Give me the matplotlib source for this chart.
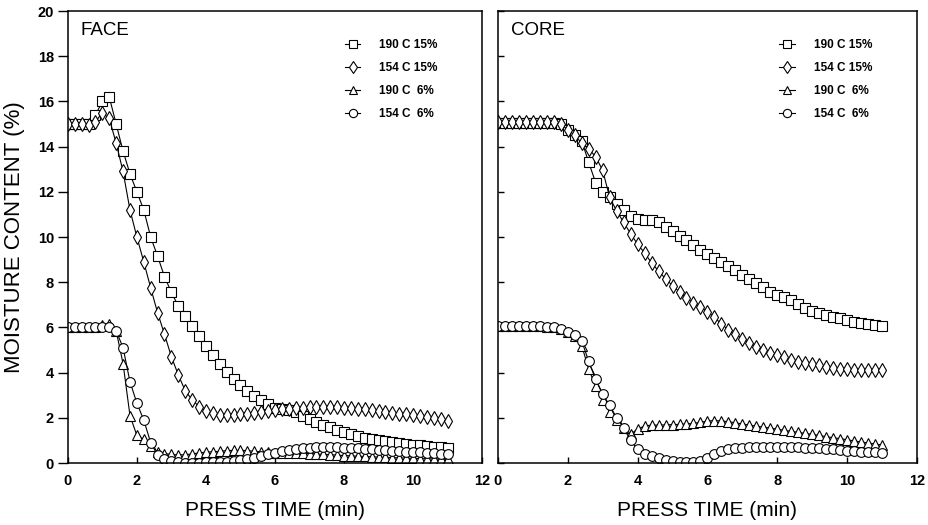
import numpy as np
import matplotlib
matplotlib.use("Agg")
import matplotlib.pyplot as plt

plt.rcParams['font.family'] = ['Liberation Sans', 'DejaVu Sans']

# press time (min), sampled every 0.2 min from 0 to 11
time_min = np.round(np.arange(0, 11.0001, 0.2), 1)

legend_labels = ["190 C 15%", "154 C 15%", "190 C  6%", "154 C  6%"]
panel_titles = ["FACE", "CORE"]
x_ticks = [0, 2, 4, 6, 8, 10, 12]
y_ticks = [0, 2, 4, 6, 8, 10, 12, 14, 16, 18, 20]

# ---------------- FACE ----------------
face_190_15 = [15.0, 15.0, 15.0, 15.0, 15.4, 16.0, 16.2, 15.0, 13.8, 12.8,
               12.0, 11.2, 10.0, 9.15, 8.25, 7.55, 6.95, 6.5, 6.05, 5.6,
               5.2, 4.8, 4.4, 4.05, 3.72, 3.45, 3.2, 2.95, 2.78, 2.6,
               2.45, 2.4, 2.36, 2.25, 2.08, 1.95, 1.8, 1.7, 1.58, 1.45,
               1.37, 1.28, 1.2, 1.12, 1.06, 1.0, 0.96, 0.92, 0.88, 0.85,
               0.82, 0.79, 0.76, 0.73, 0.7, 0.68]
face_154_15 = [15.0, 15.0, 15.0, 14.95, 15.1, 15.5, 15.25, 14.15, 12.9, 11.2,
               10.0, 8.9, 7.75, 6.65, 5.7, 4.7, 3.9, 3.2, 2.8, 2.5,
               2.3, 2.2, 2.14, 2.12, 2.13, 2.15, 2.18, 2.22, 2.27, 2.31,
               2.35, 2.38, 2.41, 2.43, 2.45, 2.46, 2.47, 2.48, 2.48, 2.47,
               2.45, 2.44, 2.41, 2.38, 2.35, 2.31, 2.27, 2.23, 2.19, 2.15,
               2.11, 2.07, 2.03, 1.98, 1.93, 1.88]
face_190_6 = [6.0, 6.0, 6.0, 6.0, 6.0, 6.1, 6.15, 5.85, 4.4, 2.1,
              1.22, 1.05, 0.75, 0.5, 0.42, 0.38, 0.36, 0.37, 0.4, 0.45,
              0.48, 0.5, 0.52, 0.55, 0.56, 0.56, 0.55, 0.52, 0.5, 0.48,
              0.46, 0.45, 0.45, 0.44, 0.43, 0.42, 0.4, 0.39, 0.37, 0.35,
              0.33, 0.32, 0.3, 0.29, 0.28, 0.26, 0.25, 0.24, 0.23, 0.22,
              0.21, 0.2, 0.19, 0.18, 0.17, 0.16]
face_154_6 = [6.0, 6.0, 6.0, 6.0, 6.0, 6.0, 6.0, 5.85, 5.1, 3.6,
              2.65, 1.9, 0.9, 0.35, 0.18, 0.08, 0.04, 0.02, 0.02, 0.02,
              0.03, 0.04, 0.05, 0.06, 0.08, 0.12, 0.17, 0.24, 0.31, 0.38,
              0.45, 0.52, 0.58, 0.62, 0.66, 0.68, 0.69, 0.7, 0.7, 0.69,
              0.68, 0.67, 0.65, 0.63, 0.61, 0.59, 0.57, 0.55, 0.53, 0.51,
              0.49, 0.47, 0.45, 0.43, 0.41, 0.39]

# ---------------- CORE ----------------
core_190_15 = [15.05, 15.05, 15.05, 15.05, 15.05, 15.05, 15.05, 15.05, 15.05, 15.0,
               14.75, 14.5, 14.25, 13.3, 12.4, 12.0, 11.75, 11.45, 11.2, 10.95,
               10.8, 10.75, 10.75, 10.65, 10.45, 10.25, 10.05, 9.85, 9.65, 9.42,
               9.25, 9.08, 8.88, 8.7, 8.53, 8.33, 8.15, 7.98, 7.8, 7.58,
               7.45, 7.34, 7.2, 7.04, 6.88, 6.72, 6.64, 6.56, 6.48, 6.4,
               6.33, 6.26, 6.21, 6.15, 6.1, 6.05]
core_154_15 = [15.1, 15.1, 15.1, 15.1, 15.1, 15.1, 15.1, 15.1, 15.1, 15.0,
               14.75, 14.5, 14.15, 13.9, 13.55, 12.95, 11.75, 11.15, 10.65, 10.15,
               9.68, 9.3, 8.85, 8.5, 8.15, 7.85, 7.57, 7.3, 7.08, 6.9,
               6.7, 6.45, 6.15, 5.9, 5.7, 5.5, 5.32, 5.15, 4.98, 4.85,
               4.76, 4.68, 4.58, 4.49, 4.42, 4.37, 4.32, 4.26, 4.21, 4.17,
               4.14, 4.12, 4.11, 4.1, 4.1, 4.1]
core_190_6 = [6.05, 6.05, 6.05, 6.05, 6.05, 6.05, 6.05, 6.0, 6.0, 5.95,
              5.8, 5.6, 5.2, 4.15, 3.4, 2.8, 2.25, 1.9, 1.55, 1.28,
              1.5, 1.64, 1.68, 1.68, 1.69, 1.7, 1.71, 1.73, 1.76, 1.8,
              1.86, 1.88, 1.86, 1.83, 1.78, 1.73, 1.68, 1.63, 1.59, 1.55,
              1.5, 1.45, 1.4, 1.36, 1.31, 1.27, 1.22, 1.17, 1.12, 1.08,
              1.03, 0.98, 0.93, 0.89, 0.84, 0.8]
core_154_6 = [6.05, 6.05, 6.05, 6.05, 6.05, 6.05, 6.05, 6.0, 6.0, 5.95,
              5.8, 5.65, 5.4, 4.5, 3.7, 3.05, 2.55, 2.0, 1.55, 1.0,
              0.6, 0.4, 0.3, 0.22, 0.15, 0.1, 0.06, 0.05, 0.05, 0.1,
              0.22, 0.38, 0.52, 0.6, 0.65, 0.68, 0.7, 0.7, 0.7, 0.7,
              0.7, 0.7, 0.7, 0.69, 0.68, 0.67, 0.65, 0.62, 0.6, 0.58,
              0.55, 0.53, 0.51, 0.49, 0.47, 0.45]

face_series = [face_190_15, face_154_15, face_190_6, face_154_6]
core_series = [core_190_15, core_154_15, core_190_6, core_154_6]
markers = ['s', 'd', '^', 'o']
msizes = [6.5, 7.5, 6.5, 7.0]

fig = plt.figure(figsize=(9.29, 5.25), dpi=100)
ax_face = fig.add_axes([0.073, 0.118, 0.446, 0.861])
ax_core = fig.add_axes([0.536, 0.118, 0.451, 0.861])

for ax, series, title in [(ax_face, face_series, panel_titles[0]),
                          (ax_core, core_series, panel_titles[1])]:
    for vals, mk, ms, lab in zip(series, markers, msizes, legend_labels):
        ax.plot(time_min, vals, color='black', lw=0.8, marker=mk, ms=ms,
                mfc='white', mec='black', mew=0.8, label=lab)
    ax.set_xlim(0, 12)
    ax.set_ylim(0, 20)
    ax.set_xticks(x_ticks)
    ax.set_yticks(y_ticks)
    for sp in ax.spines.values():
        sp.set_linewidth(1.1)
    ax.tick_params(axis='x', direction='in', length=4, width=1.0,
                   labelsize=10.5, pad=8)
    for lbl in ax.get_xticklabels():
        lbl.set_fontweight('bold')
    ax.text(0.031, 0.975, title, transform=ax.transAxes, fontsize=13.5,
            va='top', ha='left')
    ax.set_xlabel("PRESS TIME (min)", fontsize=15, labelpad=9)
    leg = ax.legend(loc='upper right', bbox_to_anchor=(0.918, 0.962),
                    frameon=False, handlelength=1.3,
                    handletextpad=1.6, labelspacing=0.95, markerscale=0.85,
                    prop={'size': 8.5, 'weight': 'bold'})

ax_face.tick_params(axis='y', direction='out', length=7, width=1.0,
                    labelsize=10.5, pad=3)
for lbl in ax_face.get_yticklabels():
    lbl.set_fontweight('bold')
ax_face.set_ylabel("MOISTURE CONTENT (%)", fontsize=16, labelpad=9)
ax_core.tick_params(axis='y', direction='in', length=4, width=1.0,
                    labelleft=False)

fig.savefig("out.png", dpi=100)
